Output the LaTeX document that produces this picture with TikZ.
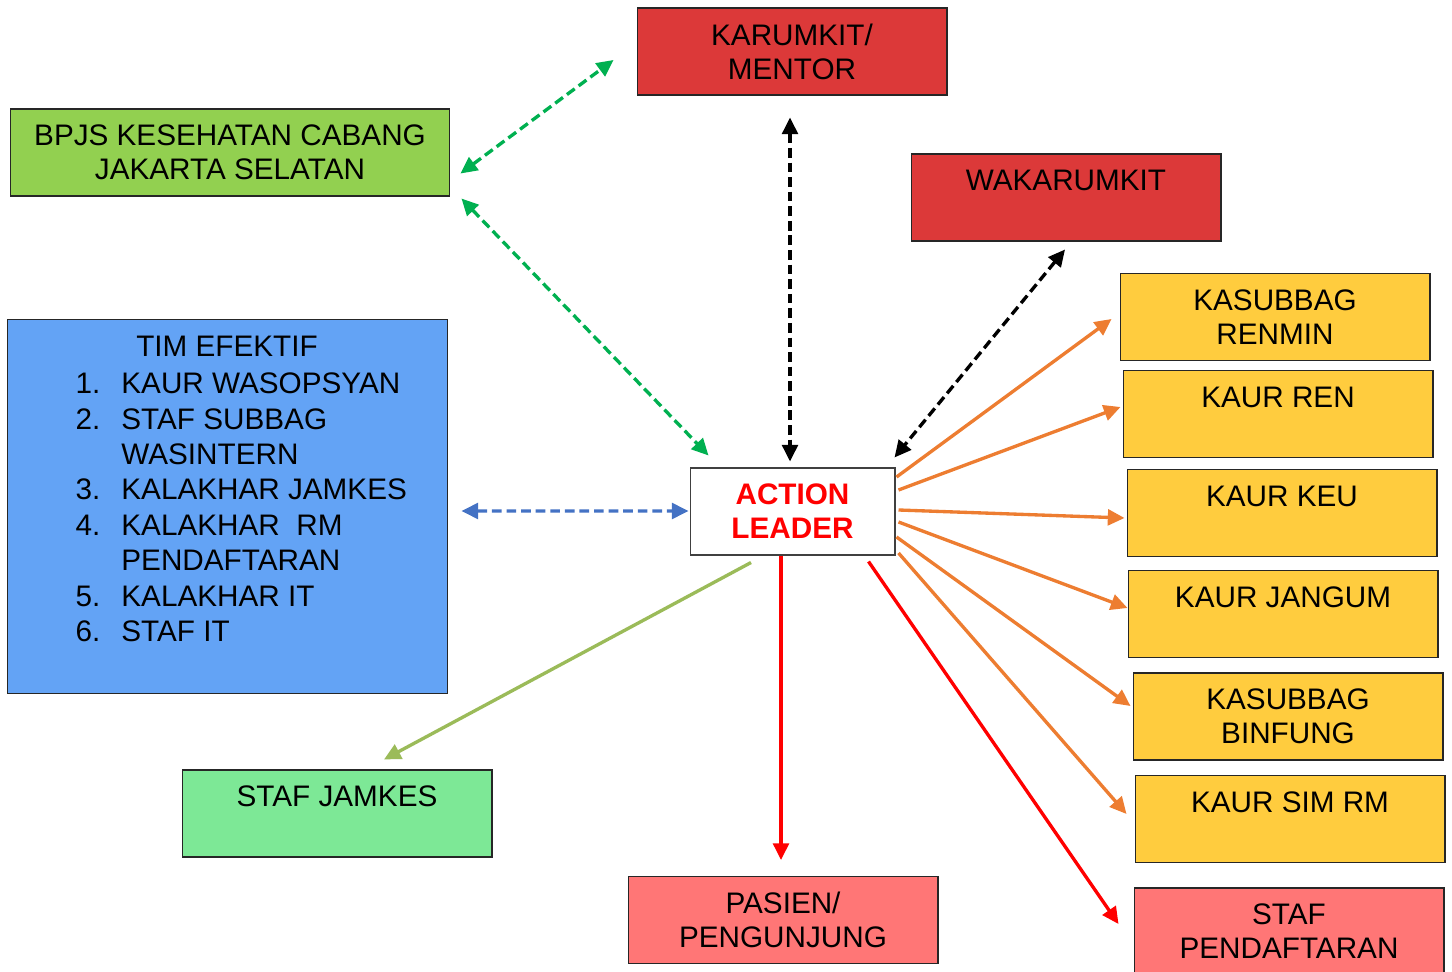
\documentclass[tikz,border=0pt]{standalone}
\usepackage{fontspec}
\setmainfont{Liberation Sans}
\usetikzlibrary{arrows.meta, positioning}

\definecolor{boxred}{RGB}{220,57,57}
\definecolor{boxgreen}{RGB}{146,208,80}
\definecolor{timblue}{RGB}{99,163,245}
\definecolor{boxyellow}{RGB}{255,204,62}
\definecolor{jamgreen}{RGB}{125,232,150}
\definecolor{boxpink}{RGB}{255,118,118}
\definecolor{arrorange}{RGB}{237,125,49}
\definecolor{arrgreen}{RGB}{0,176,80}
\definecolor{arrblue}{RGB}{68,114,196}
\definecolor{arrolive}{RGB}{155,187,89}

\begin{document}
\begin{tikzpicture} [x = 0.02cm, y = -0.02cm, >= {Triangle[length=9.5pt, width=9pt]}, line width = 1.9pt,
  box/.style = {draw = black!85, line width = 0.6pt, minimum width = 6.2cm, minimum height = 1.74cm, align = center, inner sep = 0pt, font = \fontsize{16.9}{19.4}\selectfont},
  twoway/.style = {<->, dash pattern = on 5.5pt off 2.8pt},
  oneway/.style = {->}]

\useasboundingbox (0,0) rectangle (1452,972);

\node [box, fill=boxred] (kar) at (792,51.5) {KARUMKIT/\\MENTOR};
\node [box, fill=boxgreen, minimum width=8.8cm] (bpjs) at (230,152.5) {BPJS KESEHATAN CABANG\\JAKARTA SELATAN};
\node [box, fill=boxred] (waka) at (1066,197.5) {WAKARUMKIT\\~};

\node [box, fill=timblue, minimum width=8.82cm, minimum height=7.5cm] (tim) at (227.5,506.5) {};
\node [font=\fontsize{16.9}{19.4}\selectfont] (timhead) at (227,346) {TIM EFEKTIF};
\node [anchor=north west, inner sep=0pt, font=\fontsize{16.9}{20.2}\selectfont] (timlist) at (74,367) {%
  \begin{tabular}{@{}r@{\hspace{0.42cm}}l@{}}
  1. & KAUR WASOPSYAN\\
  2. & STAF SUBBAG\\
     & WASINTERN\\
  3. & KALAKHAR JAMKES\\
  4. & KALAKHAR\ \ RM\\
     & PENDAFTARAN\\
  5. & KALAKHAR IT\\
  6. & STAF IT
  \end{tabular}};

\node [box, fill=white, draw=black!75, minimum width=4.1cm, text=red, font=\fontsize{16.9}{19.4}\selectfont\bfseries] (al) at (792.5,511.5) {ACTION\\LEADER};

\node [box, fill=boxyellow] (renmin) at (1275,317) {KASUBBAG\\RENMIN};
\node [box, fill=boxyellow] (ren) at (1278,414) {KAUR REN\\~};
\node [box, fill=boxyellow] (keu) at (1282,513) {KAUR KEU\\~};
\node [box, fill=boxyellow] (jangum) at (1283,614) {KAUR JANGUM\\~};
\node [box, fill=boxyellow] (binfung) at (1288,716.5) {KASUBBAG\\BINFUNG};
\node [box, fill=boxyellow] (simrm) at (1290,819) {KAUR SIM RM\\~};
\node [box, fill=boxpink] (stafp) at (1289,931.5) {STAF\\PENDAFTARAN};

\node [box, fill=jamgreen] (jamkes) at (337,813.5) {STAF JAMKES\\~};
\node [box, fill=boxpink] (pasien) at (783,920) {PASIEN/\\PENGUNJUNG};

% two-way links
\draw [twoway, arrgreen] ([shift={(10,21)}]bpjs.east) -- ([shift={(-23,8.5)}]kar.west);
\draw [twoway, arrgreen] ([shift={(11,2)}]bpjs.south east) -- ([shift={(19,-12)}]al.north west);
\draw [twoway, black] ([shift={(-2,22)}]kar.south) -- ([shift={(-2.5,-6)}]al.north);
\draw [twoway, black] ([shift={(-1,8)}]waka.south) -- ([shift={(-1,-10)}]al.north east);
\draw [twoway, arrblue] ([shift={(13,4.5)}]tim.east) -- ([shift={(-1,-0.5)}]al.west);

% one-way links
\draw [oneway, arrorange] ([shift={(1,-34.5)}]al.east) -- ([shift={(-8,2)}]renmin.west);
\draw [oneway, arrorange] ([shift={(3,-21.5)}]al.east) -- ([shift={(-2,-7)}]ren.west);
\draw [oneway, arrorange] ([shift={(3,-1.5)}]al.east) -- ([shift={(-2,5)}]keu.west);
\draw [oneway, arrorange] ([shift={(3,10.5)}]al.east) -- ([shift={(0,-6)}]jangum.west);
\draw [oneway, arrorange] ([shift={(1,25.5)}]al.east) -- ([shift={(-2,-10.5)}]binfung.west);
\draw [oneway, arrorange] ([shift={(3,41.5)}]al.east) -- ([shift={(-8,-5)}]simrm.west);
\draw [oneway, red] ([shift={(-27,6)}]al.south east) -- ([shift={(-15,-7.5)}]stafp.west);
\draw [oneway, red] ([shift={(-11.5,0)}]al.south) -- ([shift={(-2,-16)}]pasien.north);
\draw [oneway, arrolive] ([shift={(-41.5,7)}]al.south) -- ([shift={(47,-10)}]jamkes.north);

\end{tikzpicture}
\end{document}
